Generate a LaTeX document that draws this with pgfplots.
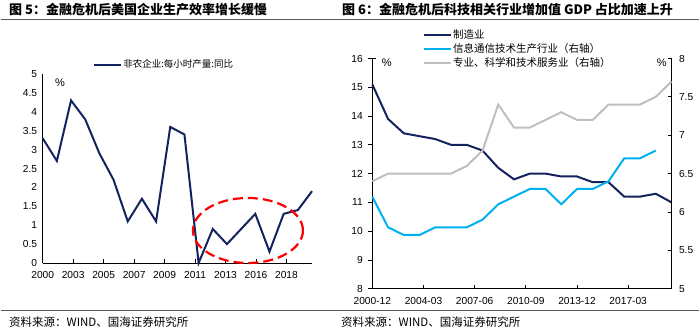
\documentclass[border=0pt]{standalone}
\usepackage{pgfplots}
\pgfplotsset{compat=1.18}
\usepackage{fontspec}
\setmainfont{Liberation Sans}
\newfontfamily\cjk{Noto Sans CJK SC}
\definecolor{navy}{HTML}{14235E}
\definecolor{lblue}{HTML}{00B0F0}
\definecolor{lgray}{HTML}{BFBFBF}
\definecolor{rulegray}{HTML}{595959}

\begin{document}
\begin{tikzpicture}
\path[use as bounding box] (0pt,0pt) rectangle (700pt,331pt);
% titles and rules
\node[anchor=west, inner sep=0pt] at (9pt,321pt) {\cjk\fontsize{13}{15}\selectfont\bfseries 图 5：金融危机后美国企业生产效率增长缓慢};
\node[anchor=west, inner sep=0pt] at (342pt,321pt) {\cjk\fontsize{13}{15}\selectfont\bfseries 图 6：金融危机后科技相关行业增加值 GDP 占比加速上升};
\draw[rulegray, line width=1.6pt] (1pt,311.5pt) -- (699pt,311.5pt);
\draw[rulegray, line width=1pt] (1pt,20.3pt) -- (699pt,20.3pt);
\node[anchor=west, inner sep=0pt] at (9pt,9pt) {\cjk\fontsize{11.5}{13}\selectfont 资料来源：WIND、国海证券研究所};
\node[anchor=west, inner sep=0pt] at (341pt,9pt) {\cjk\fontsize{11.5}{13}\selectfont 资料来源：WIND、国海证券研究所};

% ---------------- left chart ----------------
\begin{axis}[at={(42.7pt,68pt)}, anchor=south west, scale only axis,
  width=269.3pt, height=189pt,
  xmin=2000, xmax=2019, ymin=0, ymax=5, clip=false,
  axis x line*=bottom, axis y line*=left,
  axis line style={line width=0.8pt},
  tick align=inside, major tick length=4pt,
  every tick/.style={black, line width=0.8pt},
  xtick={2000,2002.15,2004.3,2006.45,2008.6,2010.75,2012.9,2015.05,2017.2},
  xticklabels={2000,2003,2005,2007,2009,2011,2013,2016,2018},
  ytick={0,0.5,1,1.5,2,2.5,3,3.5,4,4.5,5},
  y tick style={draw=none},
  tick label style={font=\fontsize{10.2}{12}\selectfont},
  x tick label style={yshift=-5pt},
  y tick label style={xshift=-2pt},
  /pgf/number format/assume math mode=true,
  legend style={draw=none, fill=none, at={(0.187,1.05)}, anchor=west,
    inner sep=0pt, nodes={inner sep=1pt},
    font=\cjk\fontsize{9.5}{11}\selectfont},
  legend image code/.code={\draw[#1] (0pt,0pt) -- (27pt,0pt);},
]
\addplot[navy, line width=2pt] coordinates {
 (2000,3.3) (2001,2.7) (2002,4.3) (2003,3.8) (2004,2.9) (2005,2.2)
 (2006,1.1) (2007,1.7) (2008,1.1) (2009,3.6) (2010,3.4) (2011,0.0)
 (2012,0.9) (2013,0.5) (2014,0.9) (2015,1.3) (2016,0.3) (2017,1.3)
 (2018,1.4) (2019,1.9)};
\addlegendentry{非农企业:每小时产量:同比}
\draw[red, line width=2.2pt, dash pattern=on 10pt off 5pt] (axis cs:2014.48,0.86) ellipse [x radius=55pt, y radius=32.5pt];
\end{axis}
\node[inner sep=0pt] at (60pt,248pt) {\fontsize{11}{12}\selectfont \%};

% ---------------- right chart ----------------
\begin{axis}[at={(372.3pt,42.3pt)}, anchor=south west, scale only axis,
  width=299.2pt, height=230.2pt,
  xmin=0, xmax=19, ymin=8, ymax=16, clip=false,
  axis x line*=bottom, axis y line*=left,
  axis line style={line width=0.8pt},
  tick align=inside, major tick length=4pt,
  every tick/.style={black, line width=0.8pt},
  xtick={0,3.25,6.5,9.75,13,16.25},
  xticklabels={2000-12,2004-03,2007-06,2010-09,2013-12,2017-03},
  ytick={8,9,10,11,12,13,14,15,16},
  y tick style={xshift=-4pt},
  tick label style={font=\fontsize{10.2}{12}\selectfont},
  x tick label style={yshift=-5pt},
  y tick label style={xshift=-6pt},
  /pgf/number format/assume math mode=true,
]
\addplot[navy, line width=2pt] coordinates {
 (0,15.1) (1,13.9) (2,13.4) (3,13.3) (4,13.2) (5,13.0) (6,13.0) (7,12.8)
 (8,12.2) (9,11.8) (10,12.0) (11,12.0) (12,11.9) (13,11.9) (14,11.7)
 (15,11.7) (16,11.2) (17,11.2) (18,11.3) (19,11.0)};
\draw[black, line width=0.8pt] (axis cs:0,16) -- ++(4pt,0pt);
\end{axis}
\begin{axis}[at={(372.3pt,42.3pt)}, anchor=south west, scale only axis,
  width=299.2pt, height=230.2pt,
  xmin=0, xmax=19, ymin=5, ymax=8, clip=false,
  axis x line=none, axis y line*=right,
  axis line style={line width=0.8pt},
  tick align=inside, major tick length=4pt,
  every tick/.style={black, line width=0.8pt},
  ytick={5,5.5,6,6.5,7,7.5,8},
  tick label style={font=\fontsize{10.2}{12}\selectfont},
  y tick label style={xshift=4pt},
  /pgf/number format/assume math mode=true,
  legend style={draw=none, fill=none, at={(0.1695,1.130)}, anchor=north west,
    inner sep=0pt, nodes={inner sep=1pt}, row sep=1.5pt,
    font=\cjk\fontsize{10.5}{12}\selectfont},
  legend cell align=left,
  legend image code/.code={\draw[#1] (0pt,0pt) -- (27pt,0pt);},
]
\addlegendimage{navy, line width=2pt}
\addlegendentry{制造业}
\addplot[lblue, line width=2pt] coordinates {
 (0,6.2) (1,5.8) (2,5.7) (3,5.7) (4,5.8) (5,5.8) (6,5.8) (7,5.9)
 (8,6.1) (9,6.2) (10,6.3) (11,6.3) (12,6.1) (13,6.3) (14,6.3)
 (15,6.4) (16,6.7) (17,6.7) (18,6.8)};
\addlegendentry{信息通信技术生产行业（右轴）}
\addplot[lgray, line width=2pt] coordinates {
 (0,6.4) (1,6.5) (2,6.5) (3,6.5) (4,6.5) (5,6.5) (6,6.6) (7,6.8)
 (8,7.4) (9,7.1) (10,7.1) (11,7.2) (12,7.3) (13,7.2) (14,7.2)
 (15,7.4) (16,7.4) (17,7.4) (18,7.5) (19,7.7)};
\addlegendentry{专业、科学和技术服务业（右轴）}
\end{axis}
\node[inner sep=0pt] at (386.7pt,268pt) {\fontsize{11}{12}\selectfont \%};
\node[inner sep=0pt] at (661.7pt,268pt) {\fontsize{11}{12}\selectfont \%};
\end{tikzpicture}
\end{document}
